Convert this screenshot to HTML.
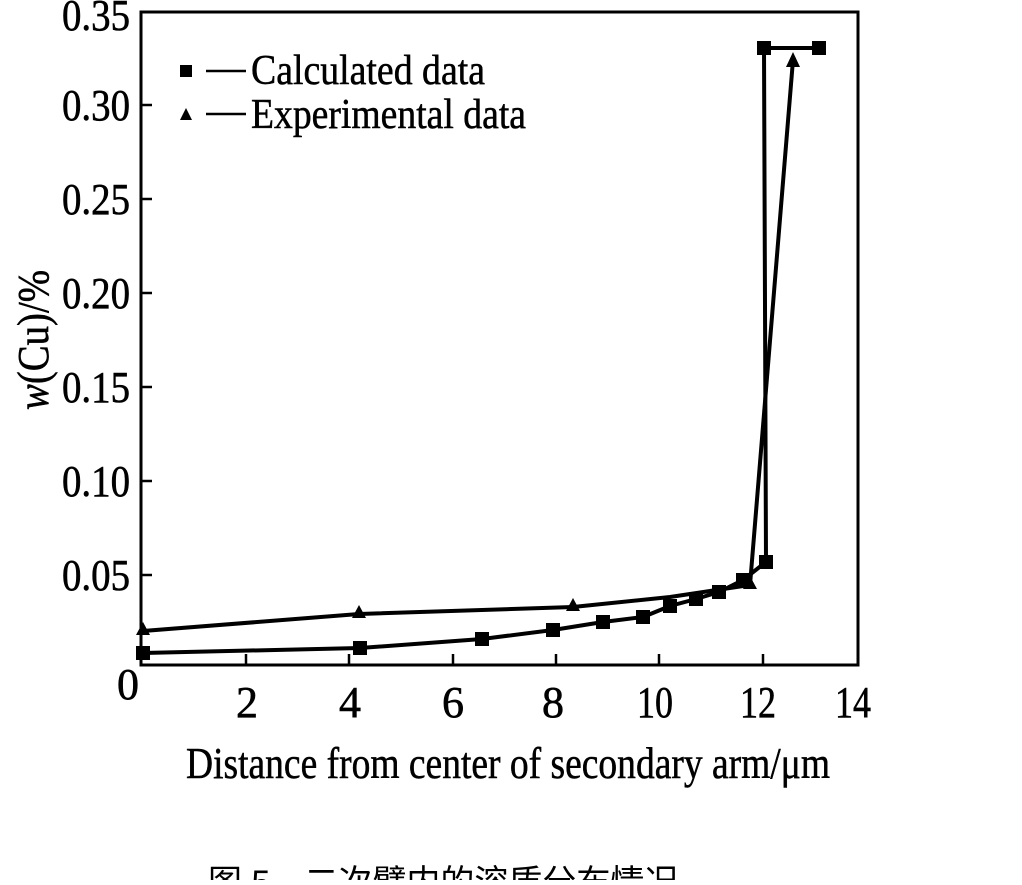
<!DOCTYPE html>
<html><head><meta charset="utf-8"><style>body{margin:0;background:#fff}</style></head>
<body>
<svg width="1022" height="880" viewBox="0 0 1022 880" xmlns="http://www.w3.org/2000/svg" font-family="Liberation Serif, serif" fill="#000">
<rect x="141" y="12" width="717" height="653" fill="none" stroke="#000" stroke-width="3"/>
<g stroke="#000" stroke-width="2.5">
<line x1="141" y1="105" x2="152" y2="105"/><line x1="141" y1="199" x2="152" y2="199"/><line x1="141" y1="293" x2="152" y2="293"/><line x1="141" y1="387" x2="152" y2="387"/><line x1="141" y1="481" x2="152" y2="481"/><line x1="141" y1="575" x2="152" y2="575"/>
<line x1="246" y1="665" x2="246" y2="654"/><line x1="349" y1="665" x2="349" y2="654"/><line x1="453" y1="665" x2="453" y2="654"/><line x1="556" y1="665" x2="556" y2="654"/><line x1="659" y1="665" x2="659" y2="654"/><line x1="763" y1="665" x2="763" y2="654"/>
</g>
<g font-size="44" text-anchor="end" stroke="#000" stroke-width="0.6">
<text x="130" y="30" textLength="68" lengthAdjust="spacingAndGlyphs">0.35</text>
<text x="130" y="120" textLength="68" lengthAdjust="spacingAndGlyphs">0.30</text>
<text x="130" y="214" textLength="68" lengthAdjust="spacingAndGlyphs">0.25</text>
<text x="130" y="308" textLength="68" lengthAdjust="spacingAndGlyphs">0.20</text>
<text x="130" y="402" textLength="68" lengthAdjust="spacingAndGlyphs">0.15</text>
<text x="130" y="496" textLength="68" lengthAdjust="spacingAndGlyphs">0.10</text>
<text x="130" y="590" textLength="68" lengthAdjust="spacingAndGlyphs">0.05</text>
</g>
<g font-size="44" text-anchor="middle" stroke="#000" stroke-width="0.6">
<text x="128" y="699">0</text>
<text x="247" y="717">2</text><text x="350" y="717">4</text><text x="453" y="717">6</text><text x="553" y="717">8</text>
<text x="655" y="717" textLength="36" lengthAdjust="spacingAndGlyphs">10</text><text x="758" y="717" textLength="36" lengthAdjust="spacingAndGlyphs">12</text><text x="853" y="717" textLength="36" lengthAdjust="spacingAndGlyphs">14</text>
</g>
<text x="186" y="778" font-size="44" stroke="#000" stroke-width="0.5" textLength="644" lengthAdjust="spacingAndGlyphs">Distance from center of secondary arm/μm</text>
<text transform="translate(48,340) rotate(-90)" font-size="44" stroke="#000" stroke-width="0.5" text-anchor="middle" textLength="140" lengthAdjust="spacingAndGlyphs"><tspan font-style="italic">w</tspan>(Cu)/%</text>
<rect x="180" y="65" width="12" height="12"/>
<line x1="206" y1="71" x2="246" y2="71" stroke="#000" stroke-width="2.5"/>
<text x="251" y="84" font-size="42" stroke="#000" stroke-width="0.5" textLength="234" lengthAdjust="spacingAndGlyphs">Calculated data</text>
<polygon points="186,108 180,120 192,120"/>
<line x1="206" y1="114" x2="246" y2="114" stroke="#000" stroke-width="2.5"/>
<text x="251" y="128" font-size="42" stroke="#000" stroke-width="0.5" textLength="275" lengthAdjust="spacingAndGlyphs">Experimental data</text>
<polyline fill="none" stroke="#000" stroke-width="4" points="143,631 359,614 573,607 670,597 750,585 793,60"/>
<polyline fill="none" stroke="#000" stroke-width="4" points="143,653 360,648 482,639 553,630 603,622 643,617 670,606 696,599 719,592 743,580 766,562 764,48 819,48"/>
<g>
<rect x="136" y="646" width="14" height="14"/><rect x="353" y="641" width="14" height="14"/><rect x="475" y="632" width="14" height="14"/><rect x="546" y="623" width="14" height="14"/><rect x="596" y="615" width="14" height="14"/><rect x="636" y="610" width="14" height="14"/><rect x="663" y="599" width="14" height="14"/><rect x="689" y="592" width="14" height="14"/><rect x="712" y="585" width="14" height="14"/><rect x="736" y="573" width="14" height="14"/><rect x="759" y="555" width="14" height="14"/><rect x="757" y="41" width="14" height="14"/><rect x="812" y="41" width="14" height="14"/>
<polygon points="143,622 136,635 150,635"/><polygon points="359,605 352,618 366,618"/><polygon points="573,598 566,611 580,611"/><polygon points="750,576 743,589 757,589"/><polygon points="793,52 786,67 800,67"/>
</g>
<text x="208" y="894" font-size="34" font-family="Liberation Sans, Noto Sans CJK SC, sans-serif">图 5　二次臂内的溶质分布情况</text>
</svg>
</body></html>
